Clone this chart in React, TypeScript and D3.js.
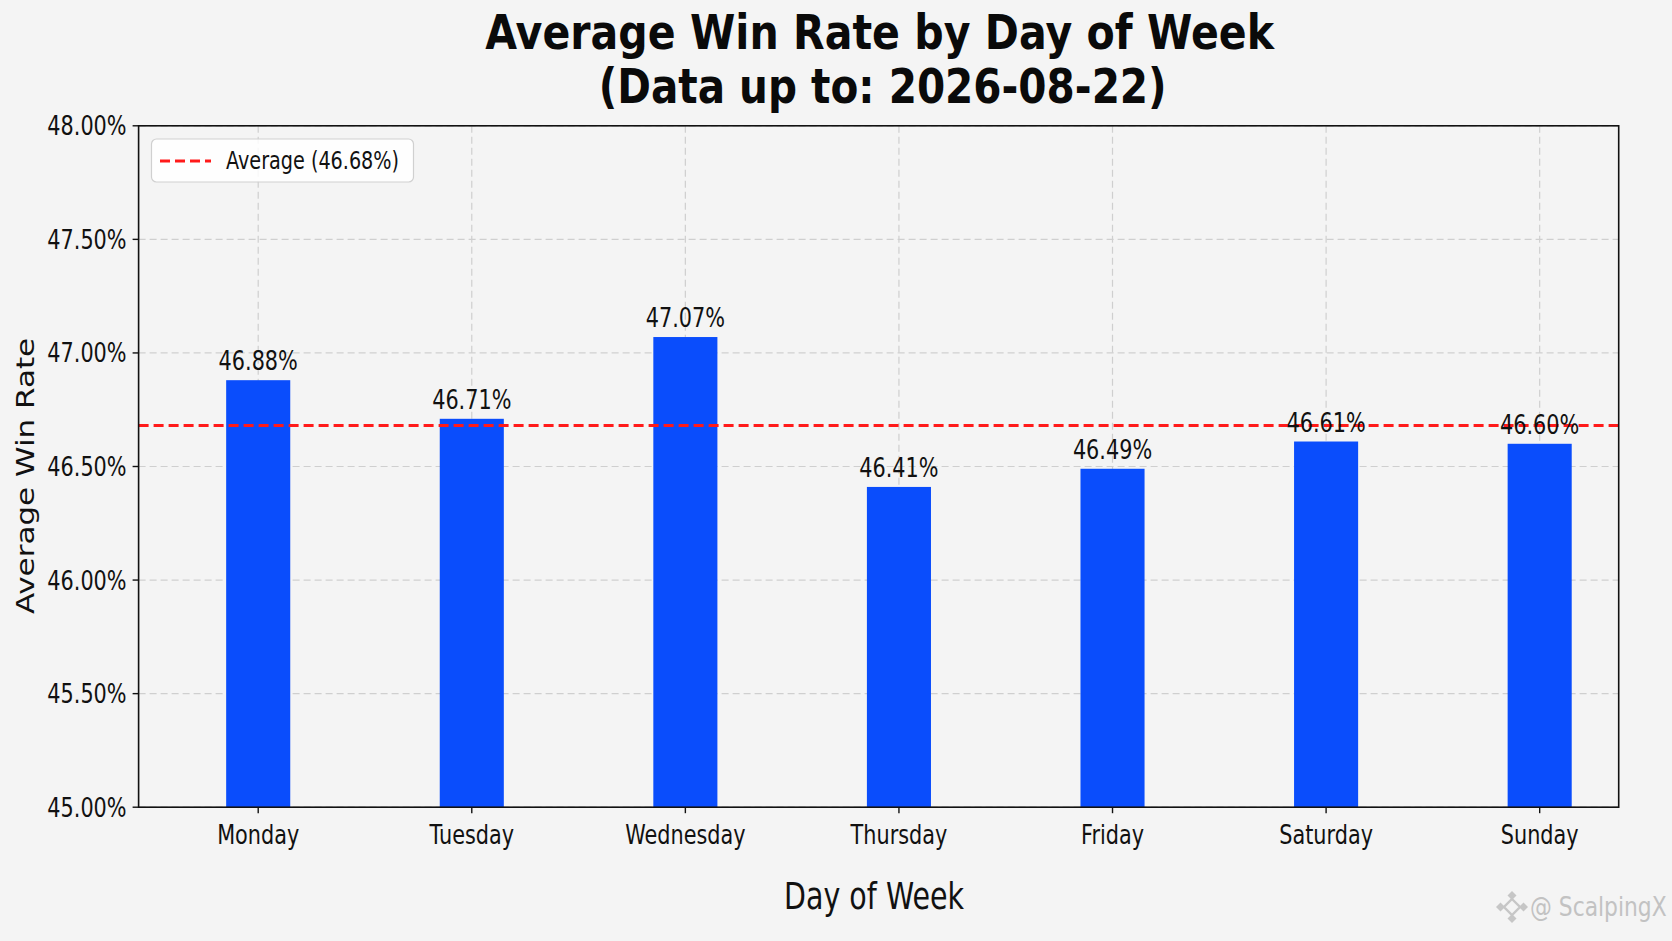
import React from "react";
import * as d3 from "d3";

const days = ["Monday", "Tuesday", "Wednesday", "Thursday", "Friday", "Saturday", "Sunday"];
const winRates = [46.88, 46.71, 47.07, 46.41, 46.49, 46.61, 46.6];
const averageRate = 46.68;
const yTickValues = [45.0, 45.5, 46.0, 46.5, 47.0, 47.5, 48.0];
const titleLines = ["Average Win Rate by Day of Week", "(Data up to: 2026-08-22)"];
const xLabel = "Day of Week";
const yLabel = "Average Win Rate";
const watermark = "@ ScalpingX";

const W = 1672;
const H = 941;
const plot = { left: 138.6, right: 1618.7, top: 125.8, bottom: 807.2 };
const FONT = "'DejaVu Sans', Verdana, sans-serif";
const BG = "#f4f4f4";
const BAR = "#0a4dfc";

function SText(props: {
  x: number; y: number; sx?: number; sy?: number; rotate?: number; size: number;
  anchor?: string; weight?: string; fill?: string; children: React.ReactNode; opacity?: number;
}) {
  const { x, y, sx = 0.8, sy = 1, rotate = 0, size, anchor = "middle", weight = "normal", fill = "#111", opacity = 1 } = props;
  return (
    <text
      transform={`translate(${x},${y}) rotate(${rotate}) scale(${sx},${sy})`}
      fontSize={size}
      fontFamily={FONT}
      fontWeight={weight}
      textAnchor={anchor}
      fill={fill}
      opacity={opacity}
    >
      {props.children}
    </text>
  );
}

export default function App() {
  const x = d3.scaleLinear().domain([-0.56, days.length - 0.63]).range([plot.left, plot.right]);
  const y = d3.scaleLinear().domain([45, 48]).range([plot.bottom, plot.top]);
  const barW = x(0.3) - x(0);
  const fmt = (v: number) => d3.format(".2f")(v) + "%";
  const cx = (plot.left + plot.right) / 2;

  return (
    <svg
      width={W}
      height={H}
      style={{ position: "absolute", left: 0, top: 0, display: "block", background: BG }}
    >
      <rect x={0} y={0} width={W} height={H} fill={BG} />
      {/* title */}
      <SText x={cx + 1} y={49} size={48} weight="bold" sx={0.857} fill="#0a0a0a">{titleLines[0]}</SText>
      <SText x={cx + 4} y={103} size={48} weight="bold" sx={0.845} fill="#0a0a0a">{titleLines[1]}</SText>

      {/* grid */}
      <g stroke="#cfcfcf" strokeWidth={1.2} strokeDasharray="7,4">
        {yTickValues.map((t) => (
          <line key={"gy" + t} x1={plot.left} x2={plot.right} y1={y(t)} y2={y(t)} />
        ))}
        {days.map((d, i) => (
          <line key={"gx" + d} x1={x(i)} x2={x(i)} y1={plot.top} y2={plot.bottom} />
        ))}
      </g>

      {/* bars */}
      {days.map((d, i) => (
        <rect key={d} x={x(i) - barW / 2} y={y(winRates[i])} width={barW} height={y(45) - y(winRates[i])} fill={BAR} />
      ))}

      {/* average line */}
      <line x1={plot.left} x2={plot.right} y1={y(averageRate)} y2={y(averageRate)} stroke="#ff1a1a" strokeWidth={3} strokeDasharray="10,5" />

      {/* bar labels */}
      {days.map((d, i) => (
        <SText key={"l" + d} x={x(i)} y={y(winRates[i]) - 10} size={26}>{fmt(winRates[i])}</SText>
      ))}

      {/* axes frame */}
      <rect x={plot.left} y={plot.top} width={plot.right - plot.left} height={plot.bottom - plot.top} fill="none" stroke="#111" strokeWidth={1.6} />

      {/* y ticks */}
      {yTickValues.map((t) => (
        <g key={"yt" + t}>
          <line x1={plot.left - 6} x2={plot.left} y1={y(t)} y2={y(t)} stroke="#111" strokeWidth={1.4} />
          <SText x={plot.left - 12} y={y(t) + 9.5} size={26} anchor="end">{fmt(t)}</SText>
        </g>
      ))}

      {/* x ticks */}
      {days.map((d, i) => (
        <g key={"xt" + d}>
          <line x1={x(i)} x2={x(i)} y1={plot.bottom} y2={plot.bottom + 6} stroke="#111" strokeWidth={1.4} />
          <SText x={x(i)} y={844} size={26}>{d}</SText>
        </g>
      ))}

      {/* axis labels */}
      <SText x={874} y={909} size={38} sx={0.75}>{xLabel}</SText>
      <SText x={34} y={476} size={31} rotate={-90} sx={1} sy={0.8}>{yLabel}</SText>

      {/* legend */}
      <rect x={151.5} y={139} width={262} height={43} rx={5} fill="#ffffff" fillOpacity={0.85} stroke="#d0d0d0" strokeWidth={1.2} />
      <line x1={160} x2={211} y1={161} y2={161} stroke="#ff1a1a" strokeWidth={3} strokeDasharray="10,5" />
      <SText x={226} y={169} size={24} anchor="start" sx={0.8}>{`Average (${fmt(averageRate)})`}</SText>

      {/* watermark */}
      <g transform="translate(1512,907)" fill="none" stroke="#c4c4c4" strokeWidth={2.4} opacity={0.95}>
        <path d="M0,-8 L8,0 L0,8 L-8,0 Z" />
        <path d="M0,-16 L4.5,-11.5 L0,-7 L-4.5,-11.5 Z" fill="#c4c4c4" stroke="none" />
        <path d="M0,16 L4.5,11.5 L0,7 L-4.5,11.5 Z" fill="#c4c4c4" stroke="none" />
        <path d="M-16,0 L-11.5,-4.5 L-7,0 L-11.5,4.5 Z" fill="#c4c4c4" stroke="none" />
        <path d="M16,0 L11.5,-4.5 L7,0 L11.5,4.5 Z" fill="#c4c4c4" stroke="none" />
      </g>
      <SText x={1530} y={916} size={26} anchor="start" sx={0.84} fill="#c2c2c2">{watermark}</SText>
    </svg>
  );
}
